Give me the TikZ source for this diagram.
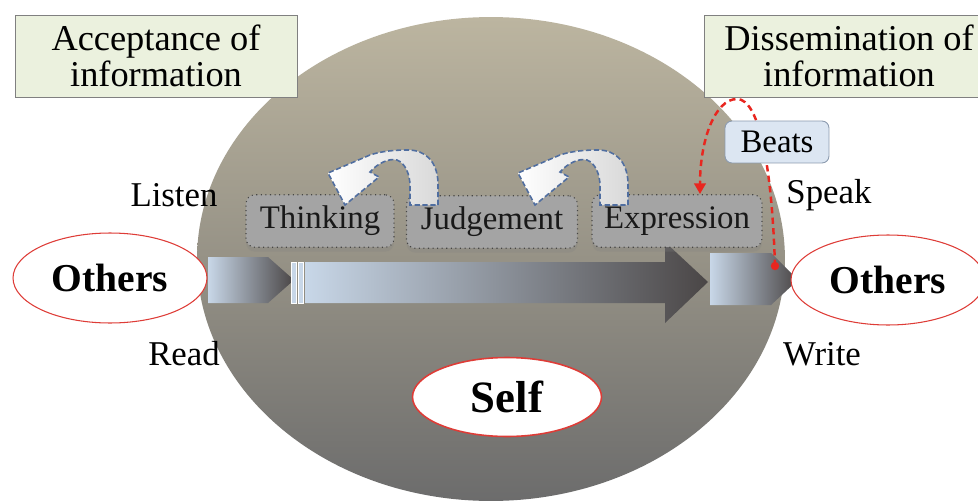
\documentclass[tikz,border=0pt]{standalone}
\usepackage{fontspec}
\setmainfont{Liberation Serif}
\usetikzlibrary{shapes.geometric,arrows.meta,shadows}

\definecolor{sphtop}{RGB}{188,181,160}
\definecolor{sphmid}{RGB}{150,146,134}
\definecolor{sphbot}{RGB}{108,108,108}
\definecolor{hdrfill}{RGB}{235,241,222}
\definecolor{hdrline}{RGB}{128,128,128}
\definecolor{boxfill}{RGB}{164,164,164}
\definecolor{boxline}{RGB}{70,70,70}
\definecolor{othred}{RGB}{222,60,55}
\definecolor{linkred}{RGB}{232,38,31}
\definecolor{turnblue}{RGB}{80,110,160}
\definecolor{pipelight}{RGB}{200,215,232}
\definecolor{pipedark}{RGB}{74,70,70}
\definecolor{beatsfill}{RGB}{220,230,242}
\definecolor{beatsline}{RGB}{140,155,175}

\begin{document}
\begin{tikzpicture}[x=0.02cm, y=-0.02cm,
  hdr/.style={draw=hdrline, line width=0.5pt, fill=hdrfill, minimum width=5.64cm,
    minimum height=1.64cm, inner sep=0pt, align=center,
    font=\fontsize{20.7}{20.4}\selectfont},
  stagebox/.style={rounded corners=5pt, draw=boxline, dotted, line width=0.6pt,
    fill=boxfill, minimum height=1.05cm, inner sep=0pt, text=black!90,
    font=\fontsize{18.7}{20}\selectfont,
    drop shadow={opacity=0.25, shadow xshift=0pt, shadow yshift=-2.5pt}},
  others/.style={ellipse, draw=othred, line width=0.6pt, fill=white,
    minimum width=3.88cm, minimum height=1.8cm, inner sep=0pt,
    font=\bfseries\fontsize{22.5}{24}\selectfont},
  sidelabel/.style={inner sep=0pt, font=\fontsize{19.8}{22}\selectfont},
  turnarrow/.style={draw=turnblue, dash pattern=on 3pt off 1.5pt, line width=0.9pt,
    left color=white, right color=gray!30},
  pipe/.style={left color=pipelight, right color=pipedark},
  redlink/.style={draw=linkred, line width=1.4pt, dash pattern=on 3.6pt off 2.4pt},
]
\useasboundingbox (0,0) rectangle (978,504);
\fill[white] (0,0) rectangle (978,504);

% the self as a large shaded sphere
\node[ellipse, minimum width=11.76cm, minimum height=9.68cm, inner sep=0pt,
      top color=sphtop, bottom color=sphbot, middle color=sphmid] (sphere) at (491,259) {};

% headings
\node[hdr] (accept) at (156,56) {Acceptance of\\information};
\node[hdr, minimum width=5.8cm] (dissem) at (849,56) {Dissemination of\\information};

% intake and output pipes
\path[pipe] (208,257) -- (268,257) -- (294,280) -- (268,303) -- (208,303) -- cycle;
\path[fill=pipelight, draw=white, line width=0.3pt] (291,262) rectangle (296,303);
\path[fill=pipelight, draw=white, line width=0.3pt] (298,262) rectangle (303,303);
\path[pipe] (305,262) -- (665,262) -- (665,242) -- (708,282) -- (665,323)
            -- (665,303) -- (305,303) -- cycle;
\path[pipe] (710,253) -- (771,253) -- (798,280) -- (771,305) -- (710,305) -- cycle;

% processing stages
\node[stagebox, minimum width=2.96cm] (think) at (320,221) {Thinking};
\node[stagebox, minimum width=3.42cm] (judge) at (492,222) {Judgement};
\node[stagebox, minimum width=3.40cm] (expr)  at (677,221) {Expression};

% feedback turn arrows
\foreach \dx in {0,190} {
  \path[turnarrow, shift={(\dx,0)}]
    (438,205) -- (438,182) .. controls (437,162) and (426,150) .. (408,150)
    .. controls (395,150) and (382,151) .. (370,155)
    -- (328,173) -- (345,205) -- (379,177) -- (370,172)
    .. controls (378,163) and (389,158) .. (397,160)
    .. controls (405,163) and (410,174) .. (410,186) -- (410,205) -- cycle;
}

% others and self
\node[others] (othersL) at (110,278) {Others};
\node[others] (othersR) at (888,280) {Others};
\node[ellipse, draw=othred, line width=0.9pt, fill=white, minimum width=3.78cm,
      minimum height=1.58cm, inner sep=0pt,
      font=\bfseries\fontsize{25.5}{27}\selectfont] (self) at (507,397) {Self};

% channels
\node[sidelabel] (listen) at (174,195) {Listen};
\node[sidelabel] (read)   at (184,354) {Read};
\node[sidelabel] (speak)  at (829,195) {Speak};
\node[sidelabel] (write)  at (822,354) {Write};

% beats feedback loop
\coordinate (dot) at (775,266);
\coordinate (exprin) at (700,194);
\draw[redlink, -{Triangle[length=6pt, width=6.5pt]}]
  (dot) .. controls (772,170) and (760,99) .. (737,99)
        .. controls (715,99) and (700,140) .. (exprin);
\fill[linkred] (dot) circle [radius=2.4pt];
\node[draw=beatsline, line width=0.5pt, fill=beatsfill, rounded corners=4pt,
      minimum width=2.08cm, minimum height=0.84cm, inner sep=0pt,
      font=\fontsize{18.7}{20}\selectfont] (beats) at (777,142) {Beats};
\end{tikzpicture}
\end{document}
